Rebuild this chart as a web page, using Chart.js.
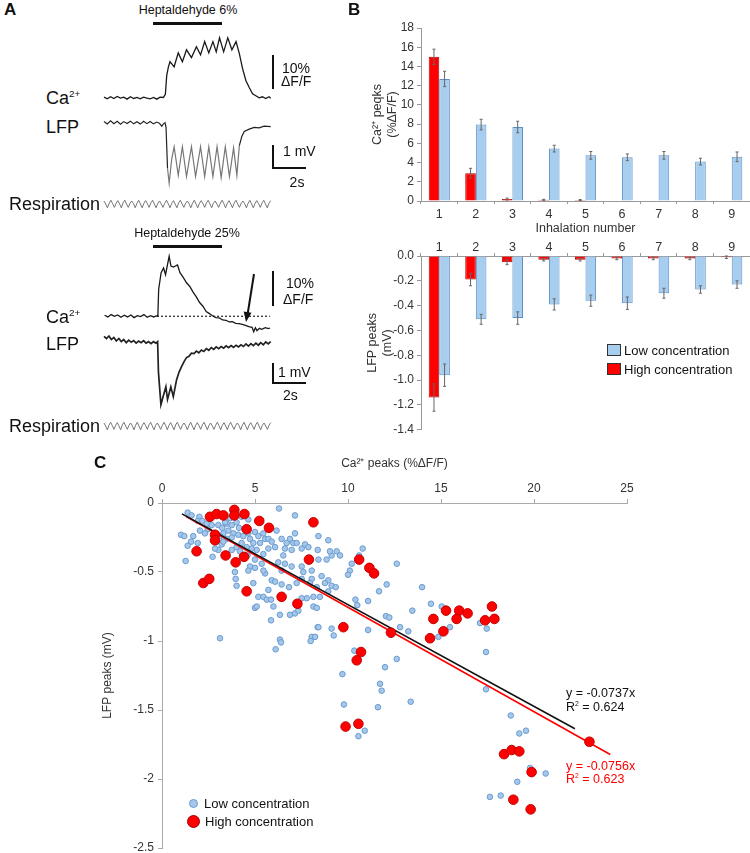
<!DOCTYPE html>
<html>
<head>
<meta charset="utf-8">
<script src="https://cdn.jsdelivr.net/npm/chart.js@4.4.1/dist/chart.umd.min.js"></script>
<style>
body { margin: 0; background: #fff; }
#fig { position: relative; width: 750px; height: 853px; overflow: hidden; background: #fff;
       font-family: Arial, "Liberation Sans", sans-serif; color: #111; }
#fig canvas { position: absolute; }
.t { position: absolute; white-space: nowrap; line-height: 1; transform: translateY(-50%); }
.c { transform: translate(-50%, -50%); }
.k { position: absolute; background: #111; }
sup { font-size: 0.55em; vertical-align: baseline; position: relative; top: -0.7em; }
.box { position: absolute; width: 12px; height: 10px; border: 1px solid #333; }
.dot { position: absolute; border-radius: 50%; }
</style>
</head>
<body>
<div id="fig">
  <canvas id="ca6" width="175" height="80" style="left:100px;top:28px"></canvas>
  <canvas id="lfp6" width="175" height="87" style="left:100px;top:109px"></canvas>
  <canvas id="resp6" width="175" height="12" style="left:100px;top:198px"></canvas>
  <canvas id="ca25" width="175" height="85" style="left:100px;top:252px"></canvas>
  <canvas id="lfp25" width="175" height="84" style="left:100px;top:328px"></canvas>
  <canvas id="resp25" width="175" height="12" style="left:100px;top:420px"></canvas>
  <canvas id="caBars" width="390" height="225" style="left:360px;top:15px"></canvas>
  <canvas id="lfpBars" width="390" height="205" style="left:360px;top:235px"></canvas>
  <canvas id="scatter" width="560" height="420" style="left:90px;top:450px"></canvas>

  <!-- panel A annotations -->
  <div class="t" style="left:4px;top:9px;font-size:17px;font-weight:bold">A</div>
  <div class="t c" style="left:188px;top:10px;font-size:12.5px">Heptaldehyde 6%</div>
  <div class="k" style="left:153px;top:22px;width:69px;height:2.5px"></div>
  <div class="t" style="left:46px;top:98px;font-size:18px">Ca<sup>2+</sup></div>
  <div class="t" style="left:46px;top:127px;font-size:18px">LFP</div>
  <div class="t" style="left:9px;top:204px;font-size:18px">Respiration</div>
  <div class="k" style="left:272px;top:55px;width:2px;height:34px"></div>
  <div class="t" style="left:282px;top:68px;font-size:14px">10%</div>
  <div class="t" style="left:281px;top:81px;font-size:14px">ΔF/F</div>
  <div class="k" style="left:272px;top:145px;width:2px;height:24px"></div>
  <div class="k" style="left:272px;top:167px;width:34px;height:2px"></div>
  <div class="t" style="left:283px;top:151px;font-size:14px">1 mV</div>
  <div class="t c" style="left:297px;top:182px;font-size:14px">2s</div>

  <div class="t c" style="left:187px;top:233px;font-size:12.5px">Heptaldehyde 25%</div>
  <div class="k" style="left:153px;top:245px;width:69px;height:2.5px"></div>
  <div class="t" style="left:46px;top:317px;font-size:18px">Ca<sup>2+</sup></div>
  <div class="t" style="left:46px;top:344px;font-size:18px">LFP</div>
  <div class="t" style="left:9px;top:426px;font-size:18px">Respiration</div>
  <div class="k" style="left:272px;top:271px;width:2px;height:35px"></div>
  <div class="t" style="left:286px;top:283px;font-size:14px">10%</div>
  <div class="t" style="left:283px;top:299px;font-size:14px">ΔF/F</div>
  <div class="k" style="left:272px;top:363px;width:2px;height:21px"></div>
  <div class="k" style="left:272px;top:382px;width:34px;height:2px"></div>
  <div class="t" style="left:278px;top:372px;font-size:14px">1 mV</div>
  <div class="t" style="left:283px;top:395px;font-size:14px">2s</div>
  <svg style="position:absolute;left:0;top:0" width="750" height="853">
    <line x1="254" y1="274" x2="247.8" y2="313" stroke="#111" stroke-width="2"/>
    <polygon points="246,322 251.5,312.8 243.7,311.4" fill="#111"/>
  </svg>

  <!-- panel B annotations -->
  <div class="t" style="left:348px;top:9px;font-size:17px;font-weight:bold">B</div>
  <div class="box" style="left:607px;top:344px;background:#A7CDEF"></div>
  <div class="t" style="left:624px;top:350px;font-size:13px">Low concentration</div>
  <div class="box" style="left:607px;top:363px;background:#FF0000"></div>
  <div class="t" style="left:624px;top:369px;font-size:13px">High concentration</div>

  <!-- panel C annotations -->
  <div class="t" style="left:94px;top:462px;font-size:17px;font-weight:bold">C</div>
  <div class="t" style="left:566px;top:693px;font-size:12.5px">y = -0.0737x</div>
  <div class="t" style="left:566px;top:707px;font-size:12.5px">R<sup>2</sup> = 0.624</div>
  <div class="t" style="left:566px;top:766px;font-size:12.5px;color:#FF0000">y = -0.0756x</div>
  <div class="t" style="left:566px;top:779px;font-size:12.5px;color:#FF0000">R<sup>2</sup> = 0.623</div>
  <div class="dot" style="left:189px;top:799px;width:7px;height:7px;background:#A5C8EA;border:1px solid #6A9BD0"></div>
  <div class="t" style="left:204px;top:803px;font-size:13px">Low concentration</div>
  <div class="dot" style="left:187px;top:815px;width:11px;height:11px;background:#FF0000;border:1px solid #900"></div>
  <div class="t" style="left:205px;top:821px;font-size:13px">High concentration</div>
</div>

<script>
// ---- panel A traces: [time s, value] ----
const traceSpan = [-0.24, 10.36];

const ca6 = [[0,0.2],[0.2,-0.3],[0.4,0.3],[0.6,-0.2],[0.8,0.4],[1.0,-0.1],[1.2,0.2],[1.4,-0.4],[1.6,0.3],[1.8,-0.2],
  [2.0,0.1],[2.2,-0.3],[2.4,0.2],[2.6,-0.1],[2.8,-0.3],[3.0,0.1],[3.2,-0.4],[3.4,0.2],[3.6,0.1],[3.72,1.0],
  [3.8,6.5],[3.9,9.0],[4.0,10.6],[4.25,9.1],[4.5,13.2],[4.75,10.6],[5.0,14.1],[5.3,11.8],[5.6,15.0],[5.85,12.6],
  [6.1,16.5],[6.35,13.2],[6.6,16.5],[6.8,13.5],[7.0,17.6],[7.25,13.5],[7.5,17.6],[7.75,14.1],[8.0,16.5],[8.2,13.0],
  [8.4,8.5],[8.6,5.0],[8.8,3.0],[9.0,1.2],[9.2,0.6],[9.4,0.0],[9.6,0.3],[9.8,-0.2],[10.0,0.3],[10.1,-0.1]];

const lfp6 = [[0,0.05],[0.2,-0.05],[0.4,0.08],[0.6,-0.04],[0.8,0.06],[1.0,-0.06],[1.2,0.05],[1.4,-0.03],[1.6,0.07],
  [1.8,-0.05],[2.0,0.04],[2.2,-0.06],[2.4,0.06],[2.6,-0.04],[2.8,0.05],[3.0,-0.05],[3.2,0.03],[3.35,-0.02],[3.5,-0.15],
  [3.6,-0.05],[3.7,0.0],[3.76,-0.2],[3.85,-2.0],[3.95,-2.65],[4.1,-1.6],[4.25,-1.05],[4.5,-2.3],[4.75,-1.05],[5.0,-2.35],
  [5.3,-1.05],[5.55,-2.35],[5.85,-1.05],[6.1,-2.35],[6.35,-1.05],[6.6,-2.35],[6.85,-1.05],[7.1,-2.4],[7.35,-1.05],
  [7.6,-2.35],[7.85,-1.1],[8.05,-2.3],[8.2,-1.0],[8.35,-0.6],[8.5,-0.38],[8.8,-0.28],[9.1,-0.2],[9.4,-0.22],[9.7,-0.15],[10.1,-0.17]];

const resp6 = [0.9,0.5,0.0,0.6, 1.0,0.55,0.05,0.6, 0.95,0.5,0.0,0.65, 1.0,0.5,0.05,0.6, 0.9,0.55,0.0,0.6, 1.0,0.5,0.0,0.6,
  0.95,0.55,0.05,0.65, 1.0,0.5,0.0,0.6, 0.9,0.5,0.05,0.6, 1.0,0.55,0.0,0.6, 0.95,0.5,0.0,0.65, 1.0,0.5,0.05,0.6,
  0.9,0.55,0.0,0.6, 1.0,0.5,0.0,0.6, 0.95,0.55,0.05,0.65, 1.0,0.5,0.0,0.6, 0.9,0.5,0.05,0.6, 1.0,0.55,0.0,0.6,
  0.95,0.5,0.0,0.65, 1.0,0.5,0.05,0.6, 0.9,0.55,0.0,0.6, 1.0,0.5,0.0,0.6, 0.95,0.55,0.05,0.65, 1.0,0.5,0.0,0.6, 0.95];
const resp6Step = 10.1 / 96;

const ca25 = [[0,0.3],[0.2,-0.2],[0.4,0.5],[0.6,0.0],[0.8,0.4],[1.0,-0.3],[1.2,0.3],[1.4,-0.2],[1.6,0.4],[1.8,-0.4],
  [2.0,0.2],[2.2,-0.1],[2.4,0.5],[2.6,-0.3],[2.8,0.2],[3.0,-0.2],[3.15,0.1],[3.25,0.0],[3.3,8.0],[3.45,13.0],
  [3.6,14.4],[3.72,12.4],[3.94,17.9],[4.05,15.0],[4.2,14.7],[4.45,15.3],[4.6,13.0],[4.8,11.6],[5.0,10.0],[5.2,8.9],
  [5.4,7.2],[5.6,5.8],[5.8,4.1],[6.0,3.0],[6.2,1.4],[6.4,0.8],[6.6,0.1],[6.8,-0.4],[7.0,-0.5],[7.2,-1.1],[7.4,-1.2],
  [7.6,-1.7],[7.8,-1.6],[8.0,-2.1],[8.2,-2.2],[8.4,-2.4],[8.6,-2.7],[8.8,-3.1],[9.0,-3.3],[9.1,-4.6],[9.2,-3.4],
  [9.3,-4.3],[9.45,-3.6],[9.6,-3.9],[9.8,-3.4],[10.0,-3.7],[10.1,-3.5]];
const ca25Baseline = [3.2, 10.1];

const lfp25 = [[0,0.2],[0.15,0.1],[0.3,0.22],[0.45,0.05],[0.6,0.15],[0.75,-0.02],[0.9,0.1],[1.05,-0.05],[1.2,0.05],
  [1.35,-0.1],[1.5,0.02],[1.65,-0.08],[1.8,0.0],[1.95,-0.12],[2.1,-0.02],[2.25,-0.1],[2.4,0.0],[2.55,-0.12],[2.7,-0.05],
  [2.85,-0.15],[3.0,-0.05],[3.15,-0.12],[3.25,-0.05],[3.3,-1.5],[3.45,-3.05],[3.58,-2.67],[3.75,-2.2],[3.85,-2.8],
  [4.05,-2.2],[4.2,-2.67],[4.4,-1.86],[4.55,-1.5],[4.7,-1.24],[4.85,-1.0],[5.0,-0.81],[5.15,-0.75],[5.3,-0.6],[5.45,-0.62],
  [5.6,-0.5],[5.75,-0.58],[5.9,-0.45],[6.05,-0.52],[6.2,-0.38],[6.35,-0.46],[6.5,-0.33],[6.65,-0.42],[6.8,-0.3],[6.95,-0.38],
  [7.1,-0.28],[7.25,-0.36],[7.4,-0.25],[7.55,-0.34],[7.7,-0.24],[7.85,-0.32],[8.0,-0.22],[8.15,-0.3],[8.3,-0.2],[8.45,-0.28],
  [8.6,-0.16],[8.75,-0.26],[8.9,-0.14],[9.05,-0.24],[9.2,-0.12],[9.35,-0.22],[9.5,-0.1],[9.65,-0.2],[9.8,-0.06],[9.95,-0.16],[10.1,-0.05]];

const resp25 = [0.9,0.5,0.0,0.6, 1.0,0.55,0.05,0.6, 0.95,0.5,0.0,0.65, 1.0,0.5,0.05,0.6, 0.9,0.55,0.0,0.6, 1.0,0.5,0.0,0.6,
  0.95,0.55,0.05,0.65, 1.0,0.5,0.0,0.6, 0.9,0.5,0.05,0.6, 1.0,0.55,0.0,0.6, 0.95,0.5,0.0,0.65, 1.0,0.5,0.05,0.6,
  0.9,0.55,0.0,0.6, 1.0,0.5,0.0,0.6, 0.95,0.55,0.05,0.65, 1.0,0.5,0.0,0.6, 0.9,0.5,0.05,0.6, 1.0,0.55,0.0,0.6,
  0.95,0.5,0.0,0.65, 1.0,0.5,0.05,0.6, 0.9,0.55,0.0,0.6, 1.0,0.5,0.0,0.6, 0.95,0.55,0.05,0.65, 1.0,0.5,0.0,0.6,
  0.9,0.5,0.05,0.6, 0.95];
const resp25Step = 10.1 / 100;

// ---- panel B bars ----
const inhalations = ['1', '2', '3', '4', '5', '6', '7', '8', '9'];
const caHigh = [15.0, 2.9, 0.2, 0.12, 0.1, 0, 0, 0, 0];
const caHighErr = [0.8, 0.5, 0.1, 0.05, 0.05, 0, 0, 0, 0];
const caLow = [12.7, 7.95, 7.7, 5.45, 4.75, 4.55, 4.75, 4.1, 4.6];
const caLowErr = [0.8, 0.55, 0.6, 0.35, 0.4, 0.35, 0.4, 0.35, 0.5];
const lfpHigh = [-1.14, -0.19, -0.05, -0.03, -0.03, -0.02, -0.02, -0.02, -0.01];
const lfpHighErr = [0.11, 0.05, 0.02, 0.01, 0.01, 0.01, 0.01, 0.01, 0.01];
const lfpLow = [-0.96, -0.51, -0.50, -0.39, -0.36, -0.38, -0.30, -0.27, -0.23];
const lfpLowErr = [0.09, 0.04, 0.05, 0.045, 0.045, 0.05, 0.04, 0.03, 0.03];

// ---- panel C scatter: [Ca peak %dF/F, LFP peak mV] ----
const lowPoints = [
  [1.38,-0.07],[1.59,-0.09],[2.01,-0.10],[1.92,-0.13],[2.17,-0.13],[2.40,-0.15],[2.67,-0.16],[2.46,-0.19],[2.04,-0.20],
  [2.31,-0.22],[1.02,-0.23],[1.20,-0.24],[1.68,-0.24],[1.56,-0.28],[1.92,-0.29],[1.38,-0.31],[1.27,-0.42],[3.03,-0.16],
  [3.24,-0.18],[3.48,-0.15],[3.75,-0.16],[4.01,-0.14],[4.14,-0.18],[3.57,-0.20],[3.84,-0.22],[3.30,-0.22],[3.12,-0.24],
  [3.48,-0.26],[3.75,-0.25],[4.10,-0.23],[4.37,-0.24],[4.64,-0.22],[5.00,-0.21],[4.73,-0.26],[4.91,-0.29],[5.18,-0.24],
  [5.45,-0.22],[5.54,-0.26],[5.27,-0.29],[5.72,-0.26],[5.90,-0.28],[6.16,-0.20],[6.08,-0.32],[5.72,-0.33],[5.45,-0.37],
  [5.09,-0.34],[4.82,-0.33],[4.55,-0.32],[4.28,-0.29],[4.01,-0.32],[3.75,-0.34],[4.19,-0.35],[4.60,-0.38],[5.00,-0.41],
  [5.36,-0.44],[4.73,-0.46],[5.00,-0.47],[4.64,-0.49],[3.92,-0.50],[3.96,-0.55],[4.01,-0.60],[4.91,-0.58],[3.03,-0.34],
  [3.21,-0.30],[3.30,-0.28],[2.72,-0.39],[2.85,-0.33],[6.43,-0.26],[6.70,-0.29],[6.88,-0.26],[7.06,-0.29],[7.24,-0.29],
  [6.61,-0.33],[6.97,-0.34],[7.15,-0.22],[7.51,-0.33],[7.69,-0.30],[7.87,-0.32],[8.41,-0.24],[8.94,-0.27],[8.37,-0.34],
  [6.52,-0.38],[6.25,-0.43],[6.61,-0.44],[6.97,-0.46],[7.51,-0.46],[7.60,-0.50],[8.05,-0.49],[8.41,-0.41],[8.85,-0.41],
  [9.12,-0.38],[9.39,-0.35],[9.03,-0.35],[9.57,-0.38],[8.58,-0.53],[8.94,-0.56],[8.05,-0.55],[6.43,-0.49],[5.90,-0.56],
  [5.54,-0.51],[5.45,-0.49],[6.08,-0.57],[5.72,-0.63],[6.43,-0.59],[6.83,-0.61],[7.24,-0.58],[7.51,-0.55],[7.96,-0.58],
  [8.32,-0.61],[8.76,-0.58],[9.12,-0.60],[9.34,-0.61],[8.94,-0.64],[8.49,-0.68],[8.14,-0.68],[7.78,-0.69],[7.51,-0.69],
  [5.18,-0.68],[5.45,-0.68],[5.63,-0.70],[5.86,-0.70],[5.00,-0.76],[5.09,-0.75],[5.99,-0.75],[6.34,-0.81],[6.88,-0.81],
  [7.15,-0.80],[7.33,-0.78],[8.14,-0.75],[8.32,-0.76],[8.37,-0.90],[9.12,-0.91],[8.05,-0.97],[5.86,-0.85],[10.1,-0.49],
  [10.2,-0.44],[10.6,-0.38],[10.0,-0.52],[10.4,-0.70],[10.5,-0.74],[3.12,-0.98],[6.34,-0.99],[6.29,-0.04],[7.15,-0.09],
  [4.28,-0.10],[4.64,-0.12],[3.66,-0.11],[3.39,-0.14],[8.41,-0.90],[10.79,-0.33],[12.62,-0.44],[11.67,-0.64],[12.08,-0.59],
  [13.98,-0.61],[11.08,-0.71],[13.46,-0.78],[14.46,-0.73],[15.04,-0.75],[12.04,-0.82],[12.22,-0.83],[17.10,-0.87],
  [17.46,-0.91],[15.48,-0.90],[12.80,-0.90],[13.24,-0.93],[11.08,-0.92],[14.86,-0.97],[6.40,-1.01],[6.11,-1.06],
  [7.99,-1.00],[8.23,-0.97],[9.23,-0.96],[10.34,-1.07],[9.70,-1.24],[9.78,-1.46],[10.56,-1.69],[10.9,-1.65],
  [17.42,-1.08],[12.62,-1.13],[11.99,-1.19],[11.72,-1.31],[11.81,-1.36],[13.37,-1.44],[11.61,-1.48],[17.42,-1.35],
  [18.75,-1.54],[19.21,-1.67],[19.57,-1.65],[19.79,-1.92],[20.63,-1.96],[17.63,-2.13],[18.21,-2.12],[19.10,-2.02]];

const highPoints = [
  [2.58,-0.10],[2.94,-0.08],[3.30,-0.09],[3.89,-0.05],[3.89,-0.09],[4.43,-0.08],[5.23,-0.13],[5.75,-0.18],[4.55,-0.19],
  [8.14,-0.14],[2.85,-0.23],[2.85,-0.27],[1.86,-0.35],[3.42,-0.38],[3.96,-0.43],[4.41,-0.39],[7.90,-0.41],[10.6,-0.41],
  [2.22,-0.58],[2.54,-0.55],[4.55,-0.64],[6.43,-0.68],[7.28,-0.73],[9.75,-0.90],[11.15,-0.47],[11.4,-0.51],[14.59,-0.84],
  [15.27,-0.78],[15.98,-0.78],[15.84,-0.84],[16.43,-0.80],[17.74,-0.75],[17.37,-0.85],[17.87,-0.84],[15.13,-0.93],
  [14.41,-0.98],[12.31,-0.94],[10.7,-1.08],[10.47,-1.14],[9.87,-1.62],[10.56,-1.60],[18.39,-1.82],[18.8,-1.79],
  [19.21,-1.80],[19.87,-1.95],[22.98,-1.73],[18.89,-2.15],[19.82,-2.22]];

// regression through origin: slope and x extent of the drawn line
const lowSlope = -0.0737, lowFitX = [1.07, 22.2];
const highSlope = -0.0756, highFitX = [1.3, 24.1];

Chart.defaults.font.family = 'Arial, "Liberation Sans", sans-serif';
Chart.defaults.color = '#333';

function toXY(pts) {
  return pts.map(p => ({ x: p[0], y: p[1] }));
}

function trace(id, pts, yMin, yMax, color, width, extra) {
  const ds = [{ data: toXY(pts), borderColor: color, borderWidth: width, pointRadius: 0, tension: 0 }];
  if (extra) ds[0] = Object.assign(ds[0], extra);
  return new Chart(document.getElementById(id), {
    type: 'line',
    data: { datasets: ds },
    options: {
      responsive: false, animation: false, events: [],
      layout: { padding: 0 },
      plugins: { legend: { display: false }, tooltip: { enabled: false } },
      scales: {
        x: { type: 'linear', display: false, min: traceSpan[0], max: traceSpan[1] },
        y: { display: false, min: yMin, max: yMax }
      }
    }
  });
}

trace('ca6', ca6, -3, 20.5, '#1a1a1a', 1.3);
trace('lfp6', lfp6, -3.2, 0.6, '#222', 1.2, {
  segment: { borderColor: c => (c.p0.parsed.x >= 3.85 && c.p1.parsed.x <= 8.2) ? '#777' : '#222' }
});
trace('resp6', resp6.map((v, i) => [i * resp6Step, v]), -0.3, 1.3, '#666', 0.9);

const ca25Chart = trace('ca25', ca25, -6, 19, '#1a1a1a', 1.3);
ca25Chart.data.datasets.push({
  data: ca25Baseline.map(t => ({ x: t, y: 0 })), borderColor: '#222', borderWidth: 1.2,
  borderDash: [2, 2], pointRadius: 0
});
ca25Chart.update();
trace('lfp25', lfp25, -3.4, 0.6, '#222', 1.7);
trace('resp25', resp25.map((v, i) => [i * resp25Step, v]), -0.3, 1.3, '#666', 0.9);

// error bars drawn from each dataset's errors through the y scale
const errorBars = {
  id: 'errorBars',
  afterDatasetsDraw(chart) {
    const ctx = chart.ctx;
    const y = chart.scales.y;
    chart.data.datasets.forEach((ds, i) => {
      const meta = chart.getDatasetMeta(i);
      meta.data.forEach((bar, j) => {
        const e = ds.errors[j];
        if (!e) return;
        const v = ds.data[j];
        const y1 = y.getPixelForValue(v + e), y2 = y.getPixelForValue(v - e);
        ctx.save();
        ctx.strokeStyle = '#666';
        ctx.lineWidth = 1;
        ctx.beginPath();
        ctx.moveTo(bar.x, y1); ctx.lineTo(bar.x, y2);
        ctx.moveTo(bar.x - 1.5, y1); ctx.lineTo(bar.x + 1.5, y1);
        ctx.moveTo(bar.x - 1.5, y2); ctx.lineTo(bar.x + 1.5, y2);
        ctx.stroke();
        ctx.restore();
      });
    });
  }
};

function barChart(id, high, highErr, low, lowErr, yOpts, xOpts, padding, yWidth) {
  return new Chart(document.getElementById(id), {
    type: 'bar',
    data: {
      labels: inhalations,
      datasets: [
        { label: 'High concentration', data: high, errors: highErr, backgroundColor: '#FF0000',
          borderColor: '#B00000', borderWidth: 1 },
        { label: 'Low concentration', data: low, errors: lowErr, backgroundColor: '#A7CDEF',
          borderColor: '#5B8FC8', borderWidth: 1 }
      ]
    },
    options: {
      responsive: false, animation: false, events: [],
      layout: { padding: padding },
      datasets: { bar: { categoryPercentage: 0.58, barPercentage: 1.0 } },
      plugins: { legend: { display: false }, tooltip: { enabled: false } },
      scales: {
        x: Object.assign({
          grid: { drawOnChartArea: false, tickLength: 3, color: '#999' },
          border: { color: '#999' }
        }, xOpts),
        y: Object.assign({
          grid: { drawOnChartArea: false, tickLength: 4, color: '#999' },
          border: { color: '#999' },
          afterFit: s => { s.width = yWidth; }
        }, yOpts)
      }
    },
    plugins: [errorBars]
  });
}

barChart('caBars', caHigh, caHighErr, caLow, caLowErr,
  { min: 0, max: 18, ticks: { stepSize: 2, font: { size: 12 }, padding: 3, color: '#333' },
    title: { display: true, text: ['Ca²⁺ peqks', '(%ΔF/F)'], font: { size: 12.5 }, padding: 0, color: '#333' } },
  { position: 'bottom', afterFit: s => { s.height = 39; },
    ticks: { font: { size: 12.5 }, padding: 3, color: '#333' },
    title: { display: true, text: 'Inhalation number', font: { size: 12.5 }, padding: { top: 1 }, color: '#333' } },
  { top: 13, left: 10, right: 0, bottom: 0 }, 51);

barChart('lfpBars', lfpHigh, lfpHighErr, lfpLow, lfpLowErr,
  { min: -1.4, max: 0, ticks: { stepSize: 0.2, font: { size: 12 }, padding: 3, color: '#333',
      callback: v => v.toFixed(1) },
    title: { display: true, text: ['LFP peaks', '(mV)'], font: { size: 12.5 }, padding: 0, color: '#333' } },
  { position: 'top', afterFit: s => { s.height = 21; },
    ticks: { font: { size: 12.5 }, padding: -2, color: '#333' } },
  { top: 0, left: 5, right: 0, bottom: 10 }, 56);

// scatter with regression lines
const fitLine = (slope, xs) => xs.map(x => ({ x: x, y: slope * x }));

new Chart(document.getElementById('scatter'), {
  type: 'scatter',
  data: {
    datasets: [
      { label: 'High concentration', data: toXY(highPoints), order: 0, pointRadius: 4.8,
        backgroundColor: '#FF0000', borderColor: '#C00000', borderWidth: 1 },
      { type: 'line', data: fitLine(lowSlope, lowFitX), order: 1, borderColor: '#111', borderWidth: 1.6,
        pointRadius: 0 },
      { type: 'line', data: fitLine(highSlope, highFitX), order: 1, borderColor: '#FF0000', borderWidth: 1.6,
        pointRadius: 0 },
      { label: 'Low concentration', data: toXY(lowPoints), order: 2, pointRadius: 2.8,
        backgroundColor: '#A5C8EA', borderColor: '#6A9BD0', borderWidth: 1 }
    ]
  },
  options: {
    responsive: false, animation: false, events: [],
    layout: { padding: { top: 0, left: 10, right: 23, bottom: 22 } },
    plugins: { legend: { display: false }, tooltip: { enabled: false } },
    scales: {
      x: {
        type: 'linear', position: 'top', min: 0, max: 25,
        ticks: { stepSize: 5, font: { size: 12 }, padding: 3, color: '#333' },
        grid: { drawOnChartArea: false, tickLength: 4, color: '#aaa' },
        border: { color: '#aaa' },
        title: { display: true, text: 'Ca²⁺ peaks (%ΔF/F)', font: { size: 12 }, padding: { top: 6, bottom: 10 }, color: '#333' },
        afterFit: s => { s.height = 53; }
      },
      y: {
        min: -2.5, max: 0,
        ticks: { stepSize: 0.5, font: { size: 12 }, padding: 4, color: '#333', callback: v => String(v) },
        grid: { drawOnChartArea: false, tickLength: 4, color: '#aaa' },
        border: { color: '#aaa' },
        title: { display: true, text: 'LFP peaks (mV)', font: { size: 12 }, padding: 0, color: '#333' },
        afterFit: s => { s.width = 62; }
      }
    }
  }
});
</script>
</body>
</html>
